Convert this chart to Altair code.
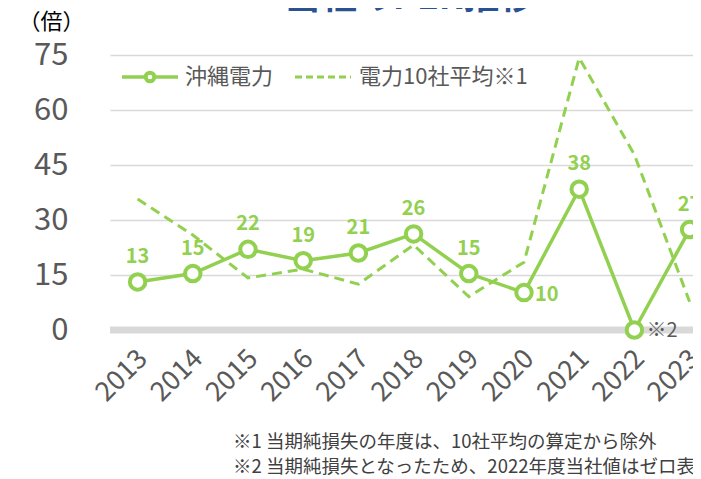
import altair as alt
import pandas as pd

# ---- data ----
years = [2013, 2014, 2015, 2016, 2017, 2018, 2019, 2020, 2021, 2022, 2023]
okiden = [13.1, 15.4, 22.0, 18.9, 21.0, 26.2, 15.4, 10.2, 38.4, 0.0, 27.4]
avg10 = [35.7, 25.9, 14.2, 16.6, 12.5, 23.2, 9.1, 18.5, 74.2, 47.8, 7.7]
y_ticks = [0, 15, 30, 45, 60, 75]
series_names = ["沖縄電力", "電力10社平均※1"]
title_text = "当社のPER推移"
unit_text = "（倍）"
note_mark = "※2"
note1 = "※1 当期純損失の年度は、10社平均の算定から除外"
note2 = "※2 当期純損失となったため、2022年度当社値はゼロ表記"

df = pd.DataFrame({"year": years, "okiden": okiden, "avg10": avg10})

FONT = "Noto Sans CJK JP"
GREEN = "#92D050"
GRAY = "#595959"

W, H = 583, 275
STEP = 55.2
xscale = alt.Scale(domain=[2012.5, 2012.5 + W / STEP], nice=False, zero=False)
yscale = alt.Scale(domain=[0, 75], nice=False)

x_axis = alt.Axis(values=years, format="d", labelAngle=315, labelAlign="right",
                  labelBaseline="top", labelFontSize=27, labelColor=GRAY,
                  labelFont=FONT, domain=False, ticks=False, grid=False,
                  labelPadding=15, labelOffset=-4, labelOverlap=False,
                  labelFlush=False, title=None)
y_axis = alt.Axis(values=y_ticks, grid=True, gridColor="#d9d9d9", gridWidth=1.5,
                  domain=False, ticks=False, labelFontSize=31, labelColor=GRAY,
                  labelFont=FONT, labelPadding=42,
                  title=unit_text, titleAngle=0, titleX=-59, titleY=-34,
                  titleAlign="center", titleBaseline="middle", titleFontSize=22,
                  titleFontWeight="normal", titleColor="#000000", titleFont=FONT)


def X(field="year"):
    return alt.X(f"{field}:Q", scale=xscale, axis=x_axis)


def Y(field):
    return alt.Y(f"{field}:Q", scale=yscale, axis=y_axis)


base = alt.Chart(df)

# thick zero line
zero_line = base.transform_filter("datum.year == 2013").transform_calculate(
    zero="0"
).mark_rule(color="#d9d9d9", strokeWidth=7).encode(
    y=Y("zero"), x=alt.value(0), x2=alt.value(W + 20),
)

avg_line = base.mark_line(color=GREEN, strokeWidth=3, strokeDash=[10, 6]).encode(
    x=X(), y=Y("avg10"))

oki_line = base.mark_line(color=GREEN, strokeWidth=3.5).encode(x=X(), y=Y("okiden"))
oki_pts = base.mark_point(
    shape="circle", filled=True, fill="white", stroke=GREEN, strokeWidth=4,
    size=240, opacity=1,
).encode(x=X(), y=Y("okiden"))

lbl_common = dict(font=FONT, fontSize=20, fontWeight="bold", color=GREEN)
labels_above = base.transform_filter(
    "datum.year != 2020 && datum.year != 2022"
).transform_calculate(lbl="format(datum.okiden, '.0f')").mark_text(
    dy=-25, align="center", baseline="middle", **lbl_common
).encode(x=X(), y=Y("okiden"), text="lbl:N")

labels_right = base.transform_filter("datum.year == 2020").transform_calculate(
    lbl="format(datum.okiden, '.0f')"
).mark_text(dx=11, dy=2, align="left", baseline="middle", **lbl_common).encode(
    x=X(), y=Y("okiden"), text="lbl:N")

note_lbl = base.transform_filter("datum.year == 2022").mark_text(
    dx=12, dy=1, align="left", baseline="middle", font=FONT, fontSize=20, color=GRAY,
    text=note_mark,
).encode(x=X(), y=Y("okiden"))

# ---- legend (drawn by hand) ----
leg_df = pd.DataFrame({"name": series_names})
leg_solid = alt.Chart(leg_df.iloc[[0]]).mark_rule(color=GREEN, strokeWidth=3.5).encode(
    x=alt.value(12), x2=alt.value(68), y=alt.value(22))
leg_circ = alt.Chart(leg_df.iloc[[0]]).mark_point(
    shape="circle", filled=True, fill="white", stroke=GREEN, strokeWidth=4, size=75,
    opacity=1).encode(x=alt.value(40), y=alt.value(22))
leg_txt1 = alt.Chart(leg_df.iloc[[0]]).mark_text(
    align="left", baseline="middle", font=FONT, fontSize=22, color=GRAY
).encode(x=alt.value(75), y=alt.value(22), text="name:N")
leg_dash = alt.Chart(leg_df.iloc[[1]]).mark_rule(
    color=GREEN, strokeWidth=3, strokeDash=[7, 4]).encode(
    x=alt.value(185), x2=alt.value(241), y=alt.value(22))
leg_txt2 = alt.Chart(leg_df.iloc[[1]]).mark_text(
    align="left", baseline="middle", font=FONT, fontSize=22, color=GRAY
).encode(x=alt.value(249), y=alt.value(22), text="name:N")

# ---- title (cut off at top as in the reference) ----
title = alt.Chart(pd.DataFrame({"t": [title_text]})).mark_text(
    align="center", baseline="alphabetic", font=FONT, fontSize=36,
    fontWeight="bold", color="#2A5290"
).encode(x=alt.value(300), y=alt.value(-46), text="t:N")

# ---- footnotes ----
note_style = dict(align="left", baseline="middle", font=FONT, fontSize=18.5, color="#404040")
foot1 = alt.Chart(pd.DataFrame({"t": [note1]})).mark_text(**note_style).encode(
    x=alt.value(123), y=alt.value(387), text="t:N")
foot2 = alt.Chart(pd.DataFrame({"t": [note2]})).mark_text(**note_style).encode(
    x=alt.value(123), y=alt.value(412), text="t:N")

chart = alt.layer(
    zero_line, avg_line, oki_line, oki_pts, labels_above, labels_right,
    note_lbl, leg_solid, leg_circ, leg_txt1, leg_dash, leg_txt2, title, foot1, foot2,
).properties(
    width=W, height=H,
    padding={"left": 102, "top": 47, "right": 0, "bottom": 149},
    autosize=alt.AutoSizeParams(type="none"),
).configure_view(stroke=None)

chart.save("out.html", embed_options={"renderer": "svg", "actions": False})
